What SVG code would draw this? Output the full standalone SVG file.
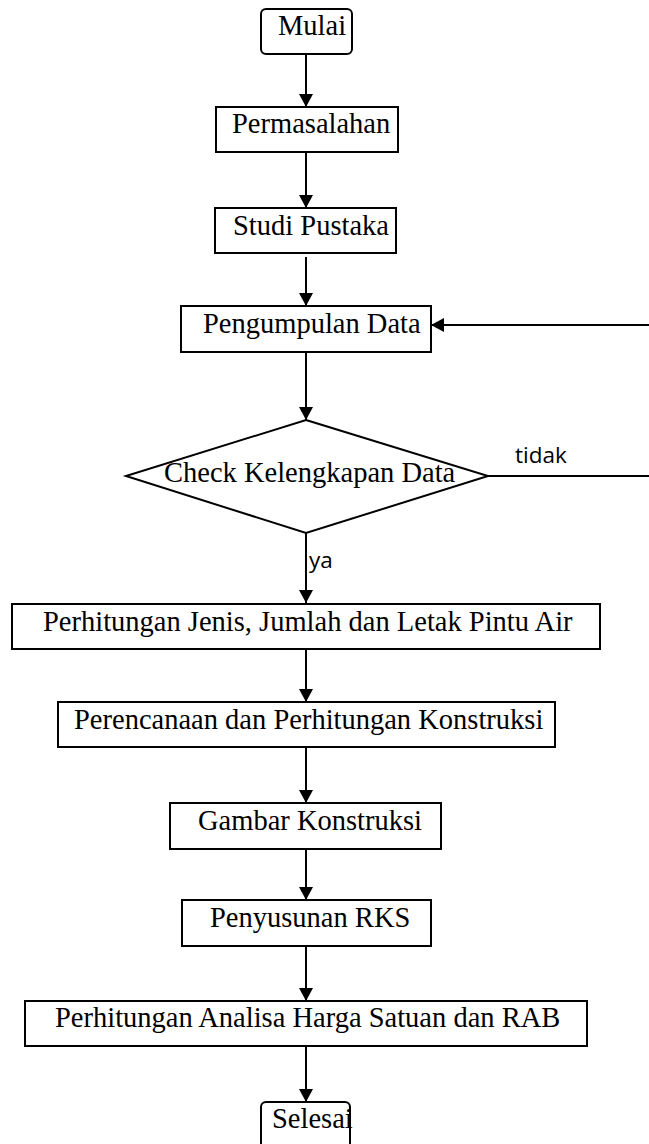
<svg xmlns="http://www.w3.org/2000/svg" width="649" height="1144" viewBox="0 0 649 1144">
  <style>
    .box { fill: #ffffff; stroke: #000000; stroke-width: 2; }
    .lbl { font-family: "Liberation Serif", "Times New Roman", serif; font-size: 28.5px; fill: #000000; }
    .note { font-family: "Open Sans", "Liberation Sans", sans-serif; font-size: 22.5px; fill: #000000; }
    .conn { fill: none; stroke: #000000; stroke-width: 2; }
  </style>
  <defs>
    <marker id="arrow" viewBox="0 0 13 14" refX="13" refY="7" markerWidth="13" markerHeight="14" markerUnits="userSpaceOnUse" orient="auto">
      <path d="M0,0 L13,7 L0,14 Z" fill="#000000"/>
    </marker>
  </defs>
  <rect width="649" height="1144" fill="#ffffff"/>

  <g id="connectors">
    <path class="conn" d="M306,54 L306,107" marker-end="url(#arrow)"/>
    <path class="conn" d="M306,152 L306,208" marker-end="url(#arrow)"/>
    <path class="conn" d="M306,257 L306,306" marker-end="url(#arrow)"/>
    <path class="conn" d="M306,352 L306,420" marker-end="url(#arrow)"/>
    <path class="conn" d="M306,533 L306,603" marker-end="url(#arrow)"/>
    <path class="conn" d="M306,649 L306,702" marker-end="url(#arrow)"/>
    <path class="conn" d="M306,747 L306,803" marker-end="url(#arrow)"/>
    <path class="conn" d="M306,849 L306,900" marker-end="url(#arrow)"/>
    <path class="conn" d="M306,946 L306,1001" marker-end="url(#arrow)"/>
    <path class="conn" d="M306,1046 L306,1102" marker-end="url(#arrow)"/>
    <path class="conn" d="M488,476 L653,476 L653,325 L431,325" marker-end="url(#arrow)"/>
    <text class="note" x="515" y="463">tidak</text>
    <text class="note" x="309" y="568">ya</text>
  </g>

  <g id="mulai">
    <rect class="box" x="261" y="9" width="91" height="45" rx="5"/>
    <text class="lbl" x="278" y="35">Mulai</text>
  </g>
  <g id="permasalahan">
    <rect class="box" x="216" y="107" width="182" height="45"/>
    <text class="lbl" x="232" y="133">Permasalahan</text>
  </g>
  <g id="studi-pustaka">
    <rect class="box" x="215" y="208" width="181" height="45"/>
    <text class="lbl" x="233" y="235">Studi Pustaka</text>
  </g>
  <g id="pengumpulan-data">
    <rect class="box" x="181" y="306" width="250" height="46"/>
    <text class="lbl" x="203" y="333">Pengumpulan Data</text>
  </g>
  <g id="check-data">
    <polygon class="box" points="306,420 488,476 306,533 126,476"/>
    <text class="lbl" x="164" y="482">Check Kelengkapan Data</text>
  </g>
  <g id="perhitungan-jenis">
    <rect class="box" x="12" y="604" width="588" height="45"/>
    <text class="lbl" x="43" y="631">Perhitungan Jenis, Jumlah dan Letak Pintu Air</text>
  </g>
  <g id="perencanaan">
    <rect class="box" x="58" y="702" width="497" height="45"/>
    <text class="lbl" x="74" y="729">Perencanaan dan Perhitungan Konstruksi</text>
  </g>
  <g id="gambar">
    <rect class="box" x="170" y="803" width="271" height="46"/>
    <text class="lbl" x="198" y="830">Gambar Konstruksi</text>
  </g>
  <g id="penyusunan-rks">
    <rect class="box" x="182" y="900" width="249" height="46"/>
    <text class="lbl" x="210" y="927">Penyusunan RKS</text>
  </g>
  <g id="perhitungan-rab">
    <rect class="box" x="25" y="1001" width="562" height="45"/>
    <text class="lbl" x="55" y="1027">Perhitungan Analisa Harga Satuan dan RAB</text>
  </g>
  <g id="selesai">
    <rect class="box" x="261" y="1102" width="89" height="60" rx="5"/>
    <text class="lbl" x="272" y="1128">Selesai</text>
  </g>
</svg>
